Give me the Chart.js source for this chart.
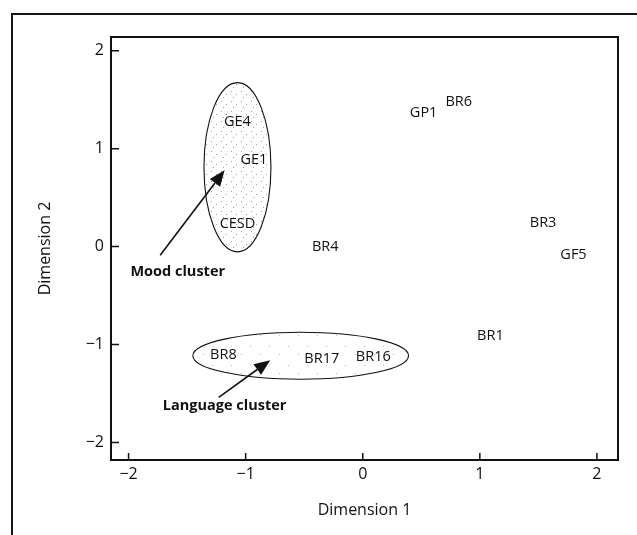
<!DOCTYPE html>
<html>
<head>
<meta charset="utf-8">
<script src="https://cdn.jsdelivr.net/npm/chart.js@4.4.0/dist/chart.umd.min.js"></script>
<style>
  html, body { margin: 0; padding: 0; background: #fff; overflow: hidden; }
  #wrap { position: relative; width: 637px; height: 535px; }
  #frame { position: absolute; left: 11px; top: 13px; width: 640px; height: 540px;
           border-top: 2px solid #151515; border-left: 2px solid #151515; }
  canvas { position: absolute; left: 0; top: 0; }
</style>
</head>
<body>
<div id="wrap">
  <div id="frame"></div>
  <canvas id="mdsChart" width="637" height="535"></canvas>
</div>
<script>
// MDS solution: item labels and their coordinates
const pointLabels = ['GE4', 'GE1', 'CESD', 'BR4', 'GP1', 'BR6', 'BR3', 'GF5', 'BR1', 'BR8', 'BR17', 'BR16'];
const dim1 = [-1.07, -0.93, -1.07, -0.32, 0.52, 0.82, 1.54, 1.80, 1.09, -1.19, -0.35, 0.09];
const dim2 = [1.27, 0.89, 0.23, 0.00, 1.37, 1.48, 0.24, -0.08, -0.91, -1.11, -1.15, -1.13];

const tickValues = [-2, -1, 0, 1, 2];

// cluster annotations (data units)
const clusterNames = ['Mood cluster', 'Language cluster'];
const clusterCx = [-1.07, -0.53];
const clusterCy = [0.81, -1.115];
const clusterRx = [0.286, 0.921];
const clusterRy = [0.864, 0.24];
const clusterLabelX = [-1.58, -1.18];
const clusterLabelY = [-0.26, -1.63];
const arrowFromX = [-1.73, -1.23];
const arrowFromY = [-0.09, -1.54];
const arrowToX = [-1.18, -0.79];
const arrowToY = [0.78, -1.16];

const INK = '#111';
const FONT = "'Open Sans', sans-serif";

// speckled fill like the printed stipple
function stipple(size, dots, color) {
    const c = document.createElement('canvas');
    c.width = size; c.height = size;
    const g = c.getContext('2d');
    g.fillStyle = color;
    dots.forEach(d => g.fillRect(d[0], d[1], 1, 1));
    return c;
}
const moodDots = stipple(10, [[1, 1], [6, 4], [3, 7]], 'rgba(100,100,100,0.6)');
const langDots = stipple(19, [[3, 4], [13, 12]], 'rgba(120,120,120,0.5)');

const fmt = v => v < 0 ? '\u2212' + Math.abs(v) : String(v);

const decor = {
    id: 'decor',
    beforeDatasetsDraw(chart) {
        const { ctx, scales: { x, y } } = chart;
        ctx.save();
        clusterNames.forEach((name, i) => {
            const cx = x.getPixelForValue(clusterCx[i]);
            const cy = y.getPixelForValue(clusterCy[i]);
            const rx = Math.abs(x.getPixelForValue(clusterCx[i] + clusterRx[i]) - cx);
            const ry = Math.abs(y.getPixelForValue(clusterCy[i] + clusterRy[i]) - cy);
            ctx.beginPath();
            ctx.ellipse(cx, cy, rx, ry, 0, 0, Math.PI * 2);
            ctx.fillStyle = ctx.createPattern(i === 0 ? moodDots : langDots, 'repeat');
            ctx.fill();
            ctx.lineWidth = 1.1;
            ctx.strokeStyle = INK;
            ctx.stroke();
        });
        ctx.restore();
    },
    afterDatasetsDraw(chart) {
        const { ctx, chartArea: a, scales: { x, y } } = chart;
        ctx.save();
        // item labels at their positions
        const meta = chart.getDatasetMeta(0);
        ctx.fillStyle = INK;
        ctx.font = "14.5px " + FONT;
        ctx.textAlign = 'center';
        ctx.textBaseline = 'middle';
        meta.data.forEach((pt, i) => ctx.fillText(pointLabels[i], pt.x, pt.y));

        // arrows and cluster names
        clusterNames.forEach((name, i) => {
            const x0 = x.getPixelForValue(arrowFromX[i]);
            const y0 = y.getPixelForValue(arrowFromY[i]);
            const x1 = x.getPixelForValue(arrowToX[i]);
            const y1 = y.getPixelForValue(arrowToY[i]);
            const ang = Math.atan2(y1 - y0, x1 - x0);
            const L = 16, W = 6.5;
            const bx = x1 - L * Math.cos(ang), by = y1 - L * Math.sin(ang);
            ctx.beginPath();
            ctx.moveTo(x0, y0);
            ctx.lineTo(bx, by);
            ctx.lineWidth = 1.6;
            ctx.strokeStyle = INK;
            ctx.stroke();
            ctx.beginPath();
            ctx.moveTo(x1, y1);
            ctx.lineTo(bx + W * Math.sin(ang), by - W * Math.cos(ang));
            ctx.lineTo(bx - W * Math.sin(ang), by + W * Math.cos(ang));
            ctx.closePath();
            ctx.fill();

            ctx.font = "bold 14.5px " + FONT;
            ctx.fillText(name, x.getPixelForValue(clusterLabelX[i]), y.getPixelForValue(clusterLabelY[i]));
        });

        // plot frame and inward ticks
        ctx.lineWidth = 2;
        ctx.strokeStyle = INK;
        ctx.strokeRect(a.left, a.top, a.right - a.left, a.bottom - a.top);
        ctx.lineWidth = 1.5;
        ctx.beginPath();
        tickValues.forEach(v => {
            const py = y.getPixelForValue(v);
            ctx.moveTo(a.left, py); ctx.lineTo(a.left + 8, py);
            const px = x.getPixelForValue(v);
            ctx.moveTo(px, a.bottom); ctx.lineTo(px, a.bottom - 7);
        });
        ctx.stroke();
        ctx.restore();
    }
};

const ctx = document.getElementById('mdsChart').getContext('2d');

new Chart(ctx, {
    type: 'scatter',
    data: {
        datasets: [{
            data: dim1.map((v, i) => ({ x: v, y: dim2[i] })),
            pointRadius: 0,
            pointHoverRadius: 0
        }]
    },
    options: {
        responsive: false,
        animation: false,
        layout: { padding: { top: 37, right: 19, left: 0, bottom: 0 } },
        plugins: { legend: { display: false }, tooltip: { enabled: false } },
        scales: {
            x: {
                min: -2.15,
                max: 2.18,
                afterBuildTicks: s => { s.ticks = tickValues.map(v => ({ value: v })); },
                afterFit: s => { s.height = 75; },
                grid: { display: false, drawTicks: false },
                border: { display: false },
                ticks: {
                    padding: 5,
                    color: INK,
                    font: { family: FONT, size: 16 },
                    callback: fmt
                },
                title: {
                    display: true,
                    text: 'Dimension 1',
                    color: INK,
                    font: { family: FONT, size: 16 },
                    padding: { top: 0, bottom: 15 }
                }
            },
            y: {
                min: -2.18,
                max: 2.14,
                afterBuildTicks: s => { s.ticks = tickValues.map(v => ({ value: v })); },
                afterFit: s => { s.width = 111; },
                grid: { display: false, drawTicks: false },
                border: { display: false },
                ticks: {
                    padding: 7,
                    color: INK,
                    font: { family: FONT, size: 16 },
                    callback: fmt
                },
                title: {
                    display: true,
                    text: 'Dimension 2',
                    color: INK,
                    font: { family: FONT, size: 16 },
                    padding: { top: 36, bottom: 0 }
                }
            }
        }
    },
    plugins: [decor]
});
</script>
</body>
</html>
